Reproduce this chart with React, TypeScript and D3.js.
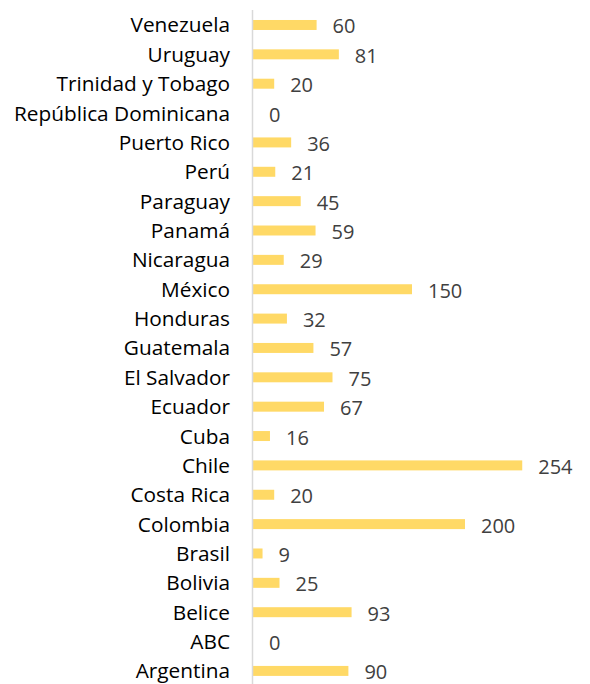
import React from "react";
import * as d3 from "d3";

const categories = [
  "Venezuela", "Uruguay", "Trinidad y Tobago", "República Dominicana", "Puerto Rico",
  "Perú", "Paraguay", "Panamá", "Nicaragua", "México", "Honduras", "Guatemala",
  "El Salvador", "Ecuador", "Cuba", "Chile", "Costa Rica", "Colombia", "Brasil",
  "Bolivia", "Belice", "ABC", "Argentina",
];
const values = [60, 81, 20, 0, 36, 21, 45, 59, 29, 150, 32, 57, 75, 67, 16, 254, 20, 200, 9, 25, 93, 0, 90];

const W = 590;
const H = 684;

export default function App() {
  const x = d3.scaleLinear().domain([0, 300]).range([253, 571]);
  const y = d3
    .scaleBand<string>()
    .domain(categories)
    .range([10.3, 685.6])
    .paddingInner(0.66)
    .paddingOuter(0.33);
  const font = "'Open Sans', sans-serif";
  return (
    <svg
      width={W}
      height={H}
      style={{ position: "absolute", left: 0, top: 0, background: "#fff" }}
    >
      {categories.map((c, i) => {
        const yy = y(c)!;
        const cy = yy + y.bandwidth() / 2;
        return (
          <g key={c}>
            <rect
              x={x(0)}
              y={yy}
              width={x(values[i]) - x(0)}
              height={y.bandwidth()}
              fill="#FFD966"
            />
            <text
              x={230}
              y={cy - 0.5}
              textAnchor="end"
              dominantBaseline="central"
              fontFamily={font}
              fontSize={20.8}
              fill="#000"
            >
              {c}
            </text>
            <text
              x={x(values[i]) + 16}
              y={cy + 1}
              dominantBaseline="central"
              fontFamily={font}
              fontSize={20}
              fill="#404040"
            >
              {values[i]}
            </text>
          </g>
        );
      })}
      <line x1={252.5} x2={252.5} y1={10} y2={H} stroke="#d9d9d9" strokeWidth={1.5} />
    </svg>
  );
}
